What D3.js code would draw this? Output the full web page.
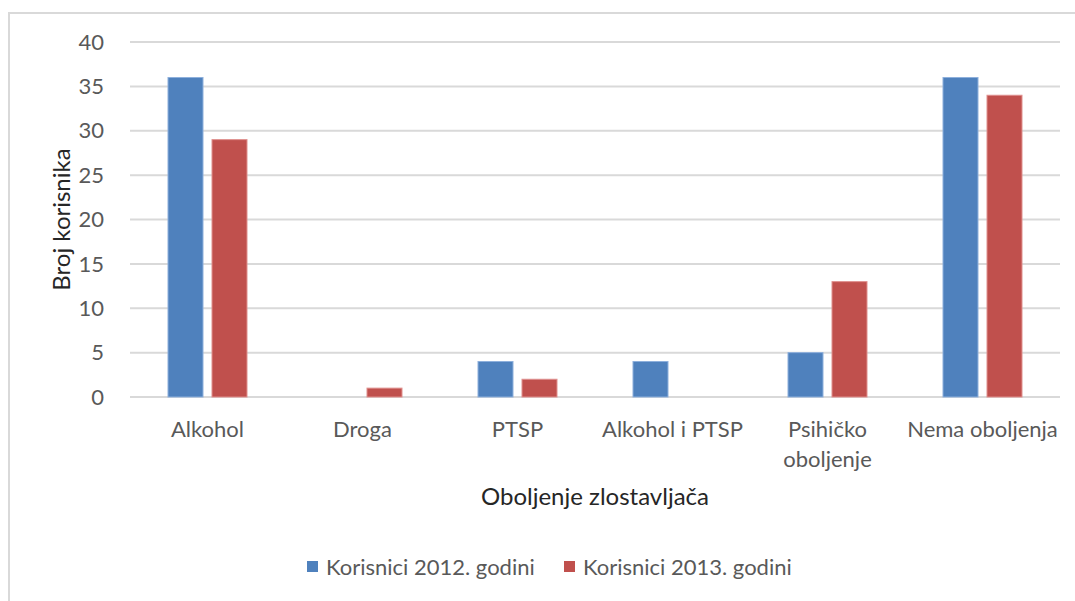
<!DOCTYPE html>
<meta charset="utf-8">
<style>
body { margin: 0; background: #fff; }
svg { display: block; font-family: Lato, "Open Sans", sans-serif; }
.grid line { stroke: #d9d9d9; stroke-width: 2px; }
.tick-label { fill: #595959; font-size: 22px; }
</style>
<svg width="1075" height="601"></svg>
<script src="https://d3js.org/d3.v7.min.js"></script>
<script>
var categories = ["Alkohol", "Droga", "PTSP", "Alkohol i PTSP", "Psihičko oboljenje", "Nema oboljenja"];
var values2012 = [36, 0, 4, 4, 5, 36];
var values2013 = [29, 1, 2, 0, 13, 34];
var seriesNames = ["Korisnici 2012. godini", "Korisnici 2013. godini"];
var yTicks = [0, 5, 10, 15, 20, 25, 30, 35, 40];

var colors = ["#4f81bd", "#c0504d"];
var strokes = ["#8eb0dc", "#e0908e"];

var svg = d3.select("svg");

// chart frame
svg.append("rect")
    .attr("x", 9).attr("y", 13)
    .attr("width", 1080).attr("height", 620)
    .attr("fill", "none")
    .attr("stroke", "#d9d9d9")
    .attr("stroke-width", 2);

var plotLeft = 130, plotRight = 1060, plotTop = 42, plotBottom = 397;

var x = d3.scaleBand().domain(categories).range([plotLeft, plotRight]);
var y = d3.scaleLinear().domain([0, 40]).range([plotBottom, plotTop]);

var grid = svg.append("g").attr("class", "grid");
grid.selectAll("line")
    .data(yTicks)
    .enter().append("line")
    .attr("x1", plotLeft).attr("x2", plotRight)
    .attr("y1", function(d) { return y(d); })
    .attr("y2", function(d) { return y(d); });

svg.selectAll(".ylab")
    .data(yTicks)
    .enter().append("text")
    .attr("class", "tick-label")
    .attr("x", 104)
    .attr("y", function(d) { return y(d); })
    .attr("dy", "0.35em")
    .attr("text-anchor", "end")
    .text(function(d) { return d; });

var barW = 35, gap = 9;
var rows = [];
categories.forEach(function(c, i) {
    rows.push({cat: c, s: 0, v: values2012[i]});
    rows.push({cat: c, s: 1, v: values2013[i]});
});

svg.selectAll(".bar")
    .data(rows.filter(function(d) { return d.v > 0; }))
    .enter().append("rect")
    .attr("class", "bar")
    .attr("x", function(d) {
        var c = x(d.cat) + x.bandwidth() / 2;
        return d.s === 0 ? c - gap / 2 - barW : c + gap / 2;
    })
    .attr("y", function(d) { return y(d.v); })
    .attr("width", barW)
    .attr("height", function(d) { return plotBottom - y(d.v); })
    .attr("fill", function(d) { return colors[d.s]; })
    .attr("stroke", function(d) { return strokes[d.s]; })
    .attr("stroke-width", 1);

// category labels, wrap long ones
var catLines = {"Psihičko oboljenje": ["Psihičko", "oboljenje"]};
var catG = svg.selectAll(".cat")
    .data(categories)
    .enter().append("text")
    .attr("class", "tick-label")
    .attr("text-anchor", "middle")
    .attr("x", function(d) { return x(d) + x.bandwidth() / 2; })
    .attr("y", 437);
catG.each(function(d) {
    var lines = catLines[d] || [d];
    var t = d3.select(this);
    lines.forEach(function(l, i) {
        t.append("tspan")
            .attr("x", x(d) + x.bandwidth() / 2)
            .attr("dy", i === 0 ? 0 : 30)
            .text(l);
    });
});

svg.append("text")
    .attr("transform", "translate(70," + ((plotTop + plotBottom) / 2) + ") rotate(-90)")
    .attr("text-anchor", "middle")
    .attr("fill", "#262626")
    .style("font-size", "24px")
    .text("Broj korisnika");

svg.append("text")
    .attr("x", (plotLeft + plotRight) / 2)
    .attr("y", 505)
    .attr("text-anchor", "middle")
    .attr("fill", "#262626")
    .style("font-size", "24px")
    .text("Oboljenje zlostavljača");

// legend
var legendX = [307, 564];
var leg = svg.selectAll(".legend")
    .data(seriesNames)
    .enter().append("g")
    .attr("transform", function(d, i) { return "translate(" + legendX[i] + ",561)"; });
leg.append("rect")
    .attr("width", 11).attr("height", 11)
    .attr("fill", function(d, i) { return colors[i]; });
leg.append("text")
    .attr("class", "tick-label")
    .attr("x", 19)
    .attr("y", 6)
    .attr("dy", "0.35em")
    .text(function(d) { return d; });
</script>
